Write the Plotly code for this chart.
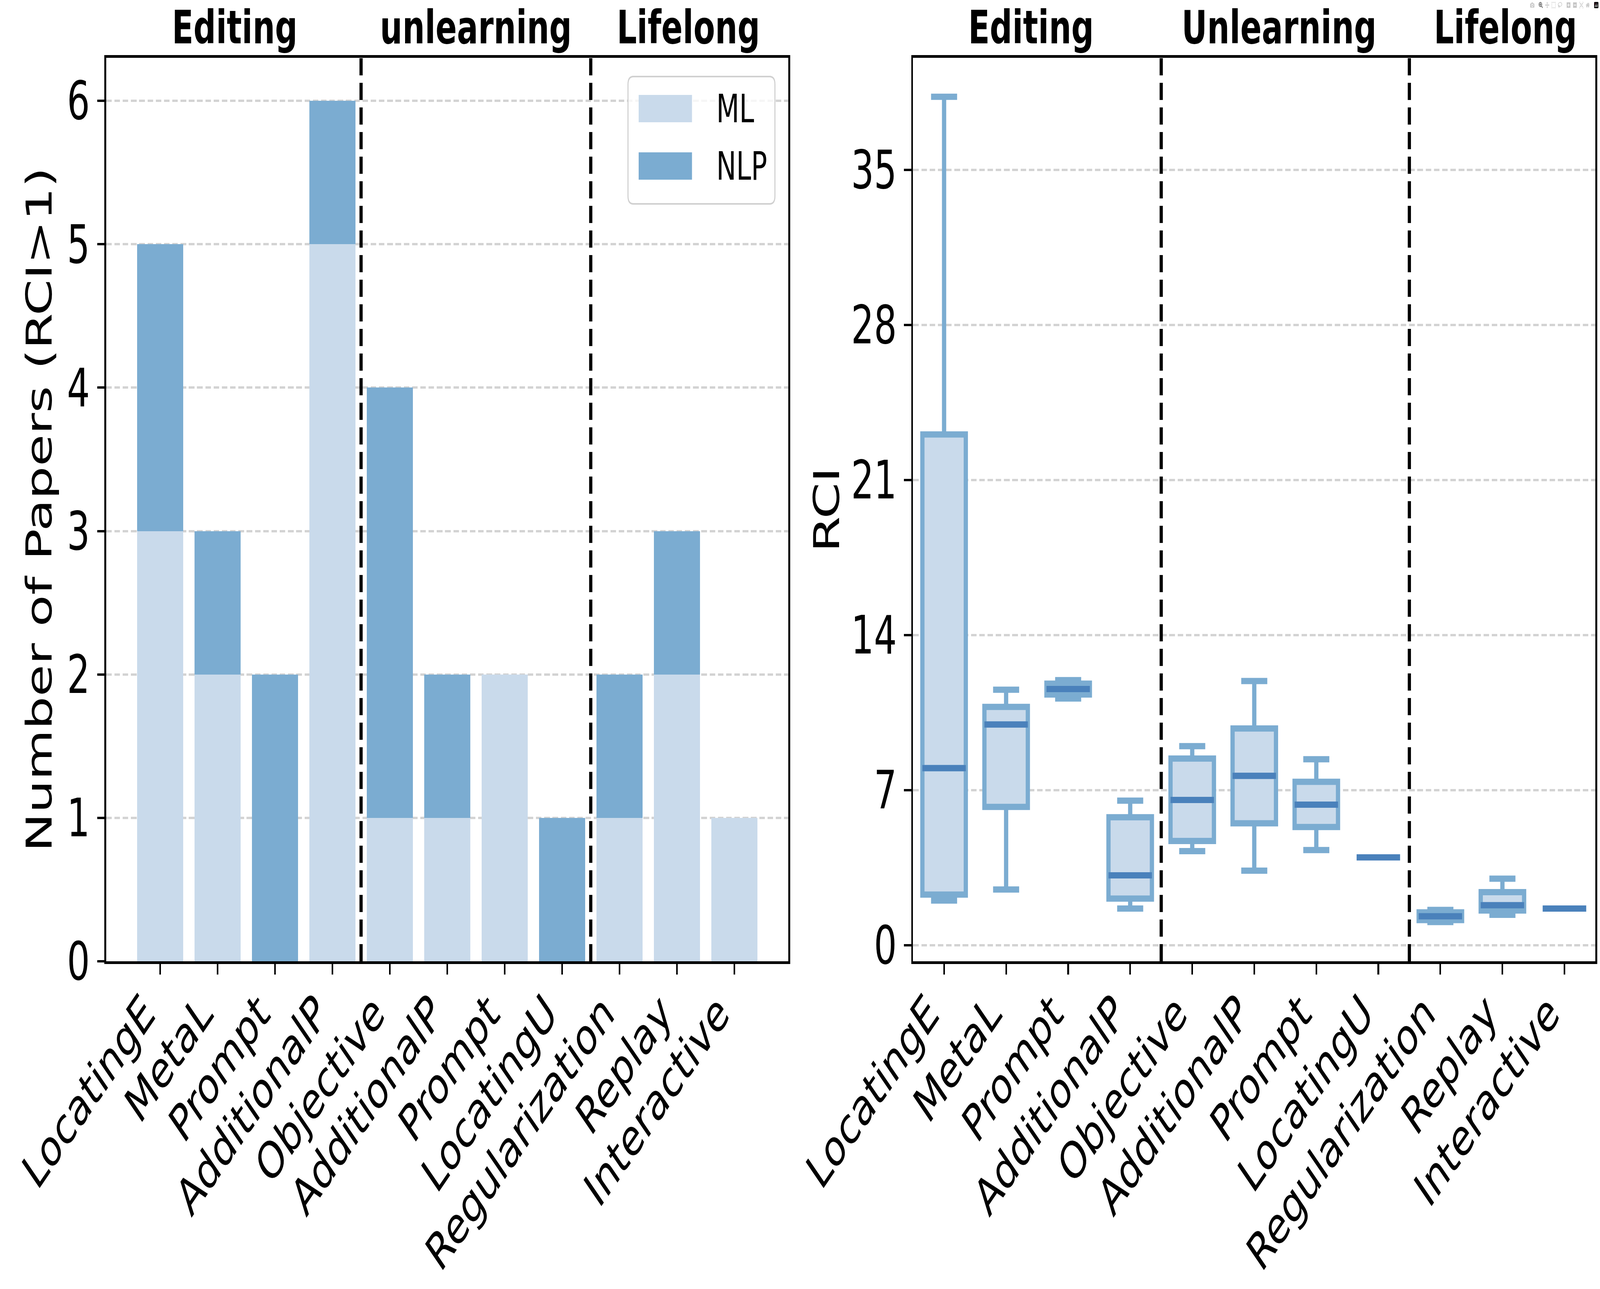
import plotly.graph_objects as go

# ---------------- data ----------------
categories = ["LocatingE", "MetaL", "Prompt", "AdditionalP",
              "Objective", "AdditionalP", "Prompt", "LocatingU",
              "Regularization", "Replay", "Interactive"]
group_sizes = [4, 4, 3]
left_group_titles = ["Editing", "unlearning", "Lifelong"]
right_group_titles = ["Editing", "Unlearning", "Lifelong"]

ml_counts = [3, 2, 0, 5, 1, 1, 2, 0, 1, 2, 1]
nlp_counts = [2, 1, 2, 1, 3, 1, 0, 1, 1, 1, 0]

rci_lower = [2.02, 2.52, 11.14, 1.66, 4.25, 3.37, 4.30, 3.97, 1.05, 1.38, 1.66]
rci_q1 = [2.29, 6.25, 11.32, 2.11, 4.71, 5.51, 5.34, 3.97, 1.14, 1.57, 1.66]
rci_median = [8.00, 9.97, 11.57, 3.16, 6.56, 7.65, 6.35, 3.97, 1.31, 1.81, 1.66]
rci_q3 = [23.06, 10.76, 11.81, 5.78, 8.43, 9.79, 7.38, 3.97, 1.49, 2.40, 1.66]
rci_upper = [38.3, 11.54, 11.97, 6.53, 8.99, 11.93, 8.40, 3.97, 1.60, 3.01, 1.66]

count_ticks = [0, 1, 2, 3, 4, 5, 6]
rci_ticks = [0, 7, 14, 21, 28, 35]

# ---------------- style ----------------
ML_COLOR = "#c9daeb"
NLP_COLOR = "#7bacd1"
MED_COLOR = "#4a81bb"
GRID_COLOR = "#d3d3d3"
FONT = "DejaVu Sans"
W, H = 6000, 3300

positions = list(range(len(categories)))
BOX_W = 0.7


def px_x(p):
    return p / W


def px_y(p):
    return 1 - p / H


x1_dom = [px_x(398), px_x(2956)]
x2_dom = [px_x(3424), px_x(5983)]
y_dom = [px_y(2461), px_y(148)]

fig = go.Figure()

fig.add_trace(go.Bar(x=positions, y=ml_counts, width=0.8, name="ML",
                     marker=dict(color=ML_COLOR, line=dict(width=0)),
                     xaxis="x", yaxis="y"))
fig.add_trace(go.Bar(x=positions, y=nlp_counts, width=0.8, name="NLP",
                     marker=dict(color=NLP_COLOR, line=dict(width=0)),
                     xaxis="x", yaxis="y"))

fig.add_trace(go.Box(x=positions, q1=rci_q1, median=rci_median, q3=rci_q3,
                     lowerfence=rci_lower, upperfence=rci_upper,
                     width=BOX_W, whiskerwidth=0.6, boxpoints=False,
                     fillcolor=ML_COLOR, line=dict(color=NLP_COLOR, width=16),
                     xaxis="x2", yaxis="y2", showlegend=False))

# darker median lines, derived from the median array
mx, my = [], []
for p, m in zip(positions, rci_median):
    mx += [p - BOX_W / 2, p + BOX_W / 2, None]
    my += [m, m, None]
fig.add_trace(go.Scatter(x=mx, y=my, mode="lines",
                         line=dict(color=MED_COLOR, width=16),
                         xaxis="x2", yaxis="y2", showlegend=False,
                         hoverinfo="skip"))

axis_common = dict(
    showline=True, linewidth=6.5, linecolor="black", mirror=True,
    ticks="outside", ticklen=27, tickwidth=6, tickcolor="black",
    zeroline=False, automargin=False,
)
xtick_font = dict(family=FONT, size=130, color="black")
ytick_font = dict(family=FONT, size=135, color="black")

fig.update_layout(
    width=W, height=H, template="none",
    margin=dict(l=0, r=0, t=0, b=0),
    paper_bgcolor="white", plot_bgcolor="white",
    font=dict(family=FONT, color="black"),
    barmode="stack", showlegend=False,
    xaxis=dict(domain=x1_dom, anchor="y", range=[-0.94, 10.94],
               tickmode="array", tickvals=positions, ticktext=categories,
               tickangle=-45, showgrid=False, tickfont=xtick_font,
               ticklabelstandoff=-30, ticklabelshift=-58, **axis_common),
    yaxis=dict(domain=y_dom, anchor="x", range=[0, 6.3],
               tickmode="array", tickvals=count_ticks, tickfont=ytick_font,
               showgrid=True, gridcolor=GRID_COLOR, gridwidth=5.5,
               griddash="21px,10px", **axis_common),
    xaxis2=dict(domain=x2_dom, anchor="y2", range=[-0.5, 10.5],
                tickmode="array", tickvals=positions, ticktext=categories,
                tickangle=-45, showgrid=False, tickfont=xtick_font,
                ticklabelstandoff=-30, ticklabelshift=-58, **axis_common),
    yaxis2=dict(domain=y_dom, anchor="x2", range=[-0.72, 40.06],
                tickmode="array", tickvals=rci_ticks, tickfont=ytick_font,
                showgrid=True, gridcolor=GRID_COLOR, gridwidth=5.5,
                griddash="21px,10px", **axis_common),
)

# group dividers (between groups)
bounds = []
acc = 0
for g in group_sizes[:-1]:
    acc += g
    bounds.append(acc - 0.5)
for xr, yr in (("x", "y domain"), ("x2", "y2 domain")):
    for b in bounds:
        fig.add_shape(type="line", xref=xr, yref=yr, x0=b, x1=b, y0=0, y1=1,
                      line=dict(color="black", width=12, dash="44px,19px"),
                      layer="above")

# group titles (text box hangs from the top edge of the page)
left_title_x = [1.3, 5.5, 9.2]
right_title_x = [1.4, 5.4, 9.05]
for xr, titles, xs in (("x", left_group_titles, left_title_x),
                       ("x2", right_group_titles, right_title_x)):
    for t, xv in zip(titles, xs):
        fig.add_annotation(text="<b>%s</b>" % t, x=xv, xref=xr, y=1,
                           yref="paper", showarrow=False, xanchor="center",
                           yanchor="top", borderpad=0,
                           font=dict(family=FONT, size=118, color="black"))

# axis titles
fig.add_annotation(text="Number of Papers (RCI>1)", x=px_x(147), y=px_y(1305),
                   xref="paper", yref="paper", showarrow=False, textangle=-90,
                   xanchor="center", yanchor="middle",
                   font=dict(family=FONT, size=133, color="black"))
fig.add_annotation(text="RCI", x=px_x(3100), y=px_y(1305),
                   xref="paper", yref="paper", showarrow=False, textangle=-90,
                   xanchor="center", yanchor="middle",
                   font=dict(family=FONT, size=133, color="black"))


# legend (drawn manually so the patches are matplotlib-sized)
def rounded_rect(x0, y0, x1, y1, r):
    def P(x, y):
        return "%.6f,%.6f" % (px_x(x), px_y(y))
    return ("M%s L%s Q%s %s L%s Q%s %s L%s Q%s %s L%s Q%s %s Z" % (
        P(x0 + r, y0), P(x1 - r, y0), P(x1, y0), P(x1, y0 + r),
        P(x1, y1 - r), P(x1, y1), P(x1 - r, y1),
        P(x0 + r, y1), P(x0, y1), P(x0, y1 - r),
        P(x0, y0 + r), P(x0, y0), P(x0 + r, y0)))


fig.add_shape(type="path", xref="paper", yref="paper",
              path=rounded_rect(2355, 196, 2906, 522, 20),
              fillcolor="rgba(255,255,255,0.8)",
              line=dict(color="#d0d0d0", width=4), layer="above")
legend_items = [("ML", ML_COLOR, 243, 313), ("NLP", NLP_COLOR, 390, 460)]
for name, col, ty, by in legend_items:
    fig.add_shape(type="rect", xref="paper", yref="paper",
                  x0=px_x(2395), x1=px_x(2595), y0=px_y(by), y1=px_y(ty),
                  fillcolor=col, line=dict(width=0), layer="above")
    fig.add_annotation(text=name, x=px_x(2684), y=px_y(by - 34.6),
                       xref="paper", yref="paper", showarrow=False,
                       xanchor="left", yanchor="middle",
                       font=dict(family=FONT, size=100, color="black"))

# The browser screen is narrower than 6000 px; map the 6000x3300 figure
# onto whatever viewport is actually available (identity if it is 6000x3300).
fit_script = """
var gd = document.getElementById('{plot_id}');
var de = document.documentElement, bd = document.body;
de.style.margin = '0'; de.style.padding = '0'; de.style.overflow = 'hidden';
bd.style.margin = '0'; bd.style.padding = '0'; bd.style.overflow = 'hidden';
var sx = window.innerWidth / %d, sy = window.innerHeight / %d;
if (sx > 0 && sy > 0 && (Math.abs(sx - 1) > 1e-3 || Math.abs(sy - 1) > 1e-3)) {
  gd.style.transformOrigin = '0 0';
  gd.style.transform = 'scale(' + sx + ',' + sy + ')';
}
""" % (W, H)

fig.write_html("out.html", post_script=fit_script)
